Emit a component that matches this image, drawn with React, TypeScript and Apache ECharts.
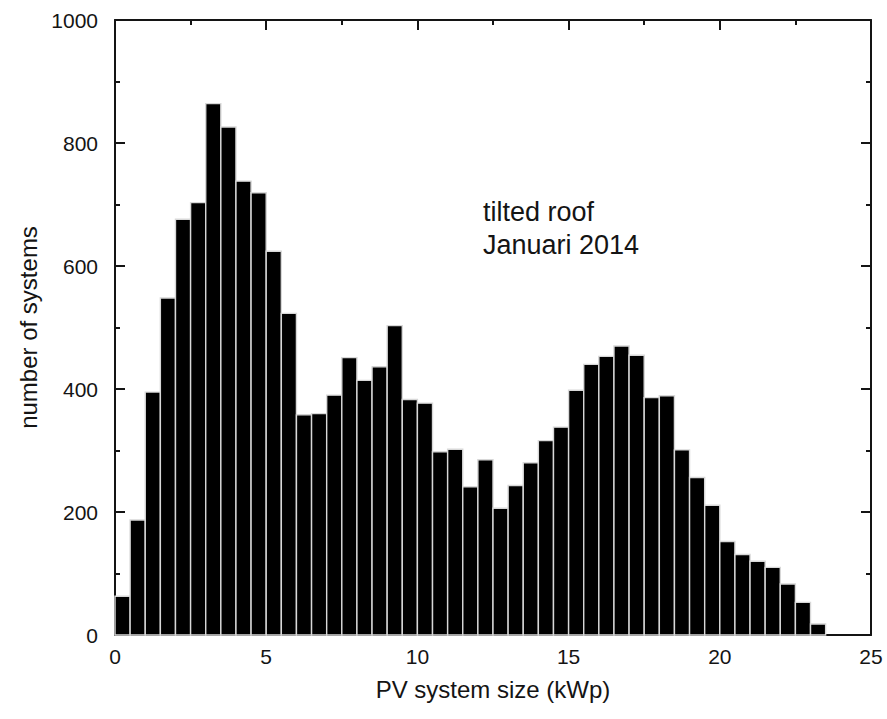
import React, { useEffect, useRef } from "react";
import * as echarts from "echarts";

// Histogram of PV system sizes on tilted roofs, 0.5 kWp bins starting at 0 kWp
const binWidth = 0.5;
const counts = [
  63, 187, 395, 548, 676, 703, 864, 826, 738, 719, 624, 523, 358, 360, 390, 451,
  414, 436, 503, 383, 377, 298, 302, 241, 285, 206, 243, 280, 316, 338, 398, 440,
  453, 470, 455, 386, 389, 301, 256, 211, 152, 131, 120, 110, 83, 53, 18,
];
const xTicks = [0, 5, 10, 15, 20, 25];
const yTicks = [0, 200, 400, 600, 800, 1000];
const noteLines = ["tilted roof", "Januari 2014"];

const FONT = "'Liberation Sans', Arial, sans-serif";
const INK = "#141414";

export default function App() {
  const ref = useRef<HTMLDivElement>(null);

  useEffect(() => {
    if (!ref.current) return;
    const chart = echarts.init(ref.current, null, { renderer: "svg" });

    const bins = counts.map((c, i) => [i * binWidth, (i + 1) * binWidth, c]);

    // shared look of the four frame axes: thick line, inward major and minor ticks
    const frameAxis = {
      axisLine: { show: true, onZero: false, lineStyle: { color: INK, width: 2 } },
      axisTick: { show: true, inside: true, length: 10, lineStyle: { color: INK, width: 2 } },
      minorTick: { show: true, splitNumber: 2, length: 5, lineStyle: { color: INK, width: 2 } },
      splitLine: { show: false },
    };

    chart.setOption({
      animation: false,
      grid: { left: 115, top: 20, width: 756, height: 615 },
      xAxis: [
        {
          type: "value",
          min: xTicks[0],
          max: xTicks[xTicks.length - 1],
          interval: 5,
          position: "bottom",
          name: "PV system size (kWp)",
          nameLocation: "middle",
          nameGap: 42,
          nameTextStyle: { fontFamily: FONT, fontSize: 24, color: INK },
          axisLabel: { fontFamily: FONT, fontSize: 21, color: INK, margin: 11 },
          ...frameAxis,
        },
        {
          type: "value",
          min: xTicks[0],
          max: xTicks[xTicks.length - 1],
          interval: 5,
          position: "top",
          axisLabel: { show: false },
          ...frameAxis,
        },
      ],
      yAxis: [
        {
          type: "value",
          min: yTicks[0],
          max: yTicks[yTicks.length - 1],
          interval: 200,
          position: "left",
          name: "number of systems",
          nameLocation: "middle",
          nameGap: 60,
          nameTextStyle: { fontFamily: FONT, fontSize: 24, color: INK },
          axisLabel: {
            fontFamily: FONT,
            fontSize: 21,
            color: INK,
            margin: 17,
            formatter: (v: number) => String(v),
          },
          ...frameAxis,
        },
        {
          type: "value",
          min: yTicks[0],
          max: yTicks[yTicks.length - 1],
          interval: 200,
          position: "right",
          axisLabel: { show: false },
          ...frameAxis,
        },
      ],
      series: [
        {
          type: "custom",
          xAxisIndex: 0,
          yAxisIndex: 0,
          data: bins,
          encode: { x: [0, 1], y: 2 },
          renderItem: (params: any, api: any) => {
            const p0 = api.coord([api.value(0), api.value(2)]);
            const p1 = api.coord([api.value(1), 0]);
            return {
              type: "rect",
              shape: { x: p0[0], y: p0[1], width: p1[0] - p0[0], height: p1[1] - p0[1] },
              style: { fill: "#000", stroke: "#d8d8d8", lineWidth: 1.4 },
            };
          },
          z: 1,
        },
      ],
      graphic: [
        {
          type: "text",
          left: 483,
          top: 195,
          style: {
            text: noteLines.join("\n"),
            font: `27px ${FONT}`,
            fill: INK,
            lineHeight: 33,
          },
        },
      ],
    });

    return () => chart.dispose();
  }, []);

  return (
    <div
      ref={ref}
      style={{ position: "absolute", left: 0, top: 0, width: 887, height: 719 }}
    />
  );
}
